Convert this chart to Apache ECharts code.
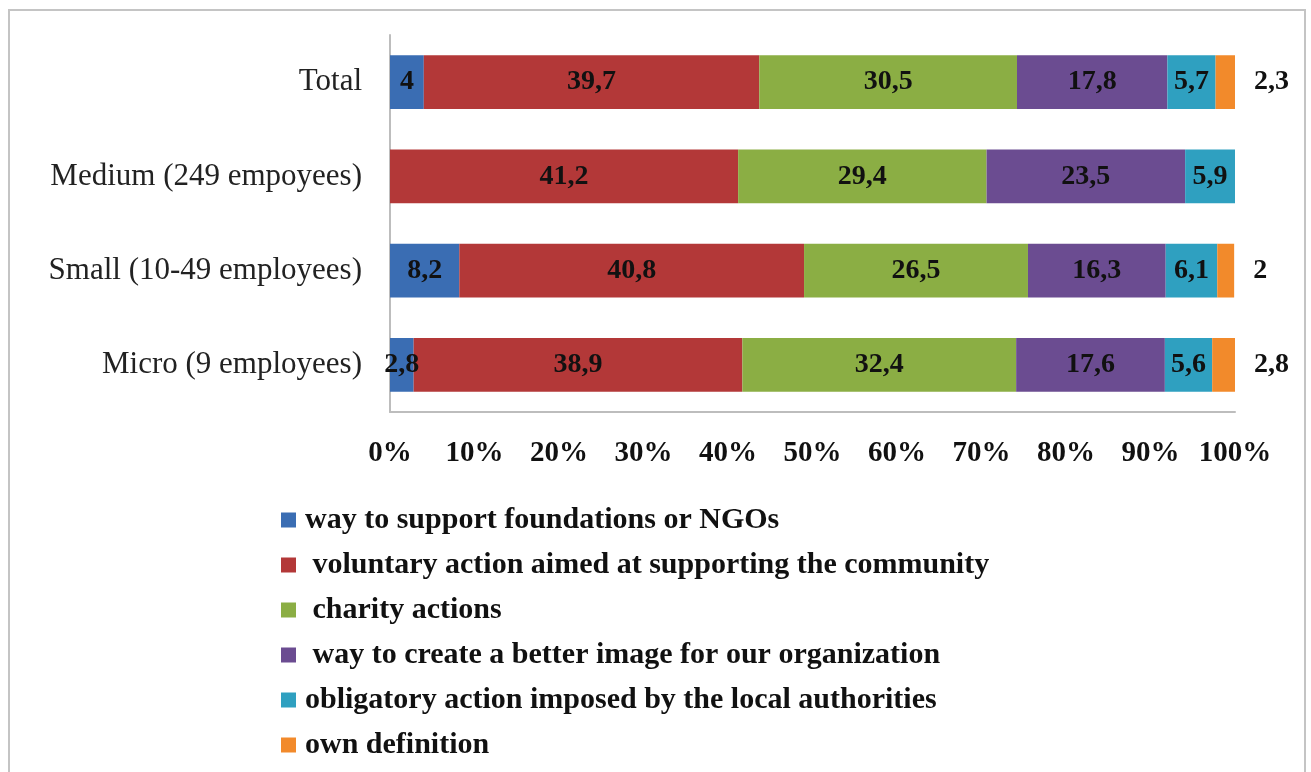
<html>
<head>
    <meta charset="utf-8">
    <script src="https://cdn.jsdelivr.net/npm/echarts@6/dist/echarts.min.js"></script>
    <style>
        body { margin: 0; background: #fff; overflow: hidden; }
        #frame { position: absolute; left: 8px; top: 9px; width: 1294px; height: 800px;
                 border: 2px solid #c4c4c4; pointer-events: none; }
    </style>
</head>
<body>
<div id="chart" style="width: 1311px;height:772px;"></div>
<div id="frame"></div>

<script type="text/javascript">

// categories top to bottom
var categories = ['Total', 'Medium (249 empoyees)', 'Small (10-49 employees)', 'Micro (9 employees)'];

var seriesNames = [
    'way to support foundations or NGOs',
    ' voluntary action aimed at supporting the community',
    ' charity actions',
    ' way to create a better image for our organization',
    'obligatory action imposed by the local authorities',
    'own definition'
];

var supportNGO  = [4, 0, 8.2, 2.8];
var voluntary   = [39.7, 41.2, 40.8, 38.9];
var charity     = [30.5, 29.4, 26.5, 32.4];
var betterImage = [17.8, 23.5, 16.3, 17.6];
var obligatory  = [5.7, 5.9, 6.1, 5.6];
var ownDef      = [2.3, 0, 2, 2.8];

var values = [supportNGO, voluntary, charity, betterImage, obligatory, ownDef];
var colors = ['#3a6db3', '#b33838', '#8bae44', '#6b4c91', '#2fa0c0', '#f28a2b'];

var serif = '"Liberation Serif", "Times New Roman", serif';

function fmt(p) {
    if (!p.value) return '';
    return String(p.value).replace('.', ',');
}

var series = values.map(function (vals, i) {
    var last = i === values.length - 1;
    return {
        name: seriesNames[i],
        type: 'bar',
        stack: 'total',
        barCategoryGap: '43%',
        itemStyle: { color: colors[i] },
        label: {
            show: true,
            position: last ? 'right' : 'inside',
            distance: 19,
            formatter: fmt,
            color: '#111',
            fontFamily: serif,
            fontWeight: 'bold',
            fontSize: 28
        },
        data: vals
    };
});

option = {
    animation: false,
    grid: {
        left: 390,
        right: 76,
        top: 35,
        bottom: 360
    },
    legend: {
        orient: 'vertical',
        left: 281,
        top: 505,
        padding: 0,
        itemWidth: 15,
        itemHeight: 15,
        itemGap: 15,
        icon: 'rect',
        textStyle: {
            fontFamily: serif,
            fontWeight: 'bold',
            fontSize: 30,
            lineHeight: 30,
            padding: [0, 0, 0, 4],
            color: '#111'
        },
        data: seriesNames
    },
    xAxis: {
        type: 'value',
        min: 0,
        max: 100,
        interval: 10,
        axisLine: { show: true, lineStyle: { color: '#bdbdbd', width: 2 } },
        axisTick: { show: false },
        splitLine: { show: false },
        axisLabel: {
            margin: 27,
            formatter: '{value}%',
            fontFamily: serif,
            fontWeight: 'bold',
            fontSize: 29,
            color: '#111'
        }
    },
    yAxis: {
        type: 'category',
        inverse: true,
        data: categories,
        axisLine: { show: true, lineStyle: { color: '#bdbdbd', width: 2 } },
        axisTick: { show: false },
        axisLabel: {
            margin: 28,
            fontFamily: serif,
            fontSize: 31,
            color: '#222'
        }
    },
    series: series
};

var chart = echarts.init(document.getElementById('chart'));
chart.setOption(option);

</script>
</body>
</html>
